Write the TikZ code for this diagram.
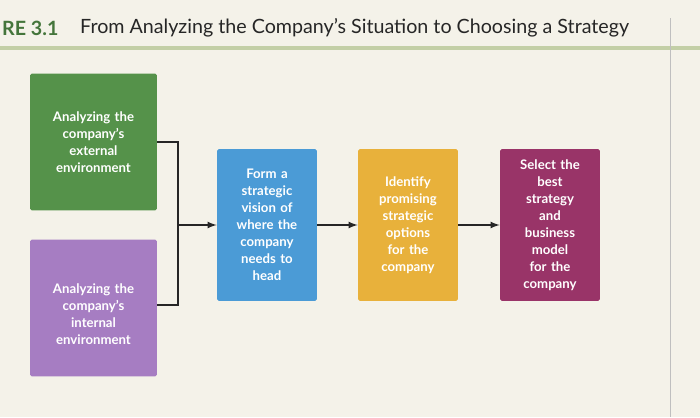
\documentclass[tikz,border=0pt]{standalone}
\usepackage{fontspec}
\setmainfont{Lato}
\usetikzlibrary{arrows,positioning,calc}
\definecolor{bgcream}{HTML}{F4F2E9}
\definecolor{rulegreen}{HTML}{C3CFA6}
\definecolor{boxgreen}{HTML}{55924A}
\definecolor{boxpurple}{HTML}{A67DC2}
\definecolor{boxblue}{HTML}{4B9BD6}
\definecolor{boxyellow}{HTML}{E8B13B}
\definecolor{boxmagenta}{HTML}{993468}
\begin{document}
\begin{tikzpicture}[x=0.02cm,y=-0.02cm]
	\tikzset{
	  basic/.style  = {rectangle, rounded corners=1pt, text=white, align=center,
	                   font=\fontsize{7.5}{9.7}\selectfont\bfseries},
	  left box/.style = {basic, minimum width=2.54cm, minimum height=2.74cm, text width=2.2cm},
	  step box/.style = {basic, minimum width=2cm, minimum height=3.04cm, text width=1.6cm},
	  link/.style = {draw=black!85, line width=0.8pt},
	  >=latex
	}
	\fill[bgcream] (0,0) rectangle (700,417);
	\useasboundingbox (0,0) rectangle (700,417);
	\draw[rulegreen, line width=2pt] (0,48) -- (700,48);
	\draw[black!25, line width=0.4pt] (670,18) -- (670,417);
	\node[anchor=west, text=boxgreen!80!black, font=\fontsize{11.2}{13}\selectfont\bfseries] (fig) at (-4,28) {RE 3.1};
	\node[anchor=west, text=black!85, font=\fontsize{11.2}{13}\selectfont] (title) at (74,28)
	  {From Analyzing the Company’s Situation to Choosing a Strategy};

	\node[left box, fill=boxgreen] (ext) at (93.5,142) {Analyzing the\\company’s\\external\\environment\\[2.2em]};
	\node[left box, fill=boxpurple] (int) at (93.5,308) {\\[0.4em]Analyzing the\\company’s\\internal\\environment};
	\node[step box, fill=boxblue] (vision) at (267,225) {Form a\\strategic\\vision of\\where the\\company\\needs to\\head\\[1.5em]};
	\node[step box, fill=boxyellow] (options) at (408,225) {Identify\\promising\\strategic\\options\\for the\\company};
	\node[step box, fill=boxmagenta] (select) at (550,225) {Select the\\best\\strategy\\and\\business\\model\\for the\\company};

	\coordinate (join) at (178,225);
	\draw[link] (ext.east) -| (join) |- ($(int.east)+(0,-3)$);
	\draw[link,->] (join) -- (vision);
	\draw[link,->] (vision) -- (options);
	\draw[link,->] (options) -- (select);
\end{tikzpicture}
\end{document}
